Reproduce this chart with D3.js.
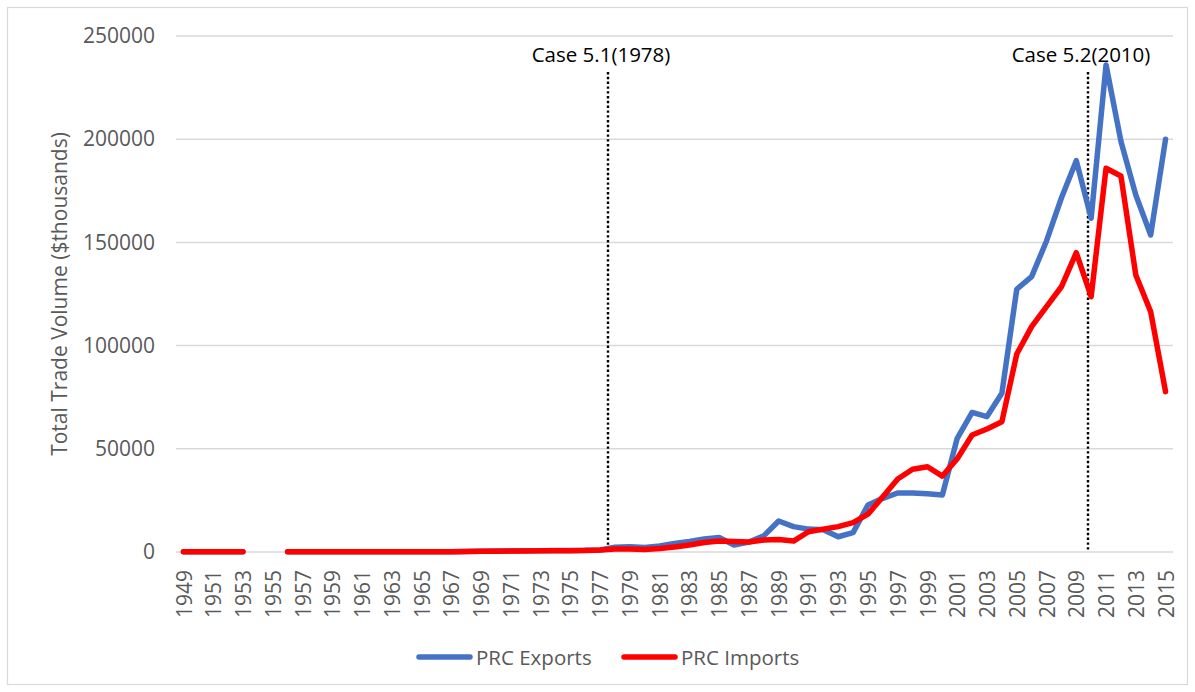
<!DOCTYPE html>
<html>
<head>
<meta charset="utf-8">
<script src="https://cdn.jsdelivr.net/npm/d3@7"></script>
<style>
  html, body { margin: 0; padding: 0; background: #fff; }
  svg { display: block; }
  text { font-family: "Open Sans", "Liberation Sans", sans-serif; }
</style>
</head>
<body>
<svg id="chart" width="1195" height="692"></svg>
<script>
// Years on the category axis (1949–2015)
const years = d3.range(1949, 2016);

// PRC exports, $ thousands (null = no data)
const exportsValues = [
  100, 100, 100, 100, 100, null, null,
  100, 100, 100, 100, 100, 100, 100, 100, 100, 100, 100, 150, 250,
  400, 450, 500, 550, 650, 700, 750, 800, 1000,
  2300, 2600, 2200, 2900, 4100, 5100, 6300, 7000, 3400, 4800, 7800,
  15000, 12300, 11100, 10800, 7400, 9400, 22800, 26000, 28600, 28600,
  28200, 27600, 55100, 67600, 65600, 76900, 127300, 133400, 150700, 171500,
  189600, 161700, 236000, 199000, 173000, 153600, 200000
];

// PRC imports, $ thousands (null = no data)
const importsValues = [
  100, 100, 100, 100, 100, null, null,
  100, 100, 100, 100, 100, 100, 100, 100, 100, 100, 100, 120, 200,
  350, 400, 450, 500, 550, 600, 650, 700, 1000,
  1500, 1500, 1200, 1700, 2400, 3400, 4600, 5300, 5100, 4800, 5800,
  6100, 5300, 9800, 11100, 12300, 14200, 18300, 26800, 35400, 40100,
  41300, 36800, 45200, 56700, 59600, 63100, 95900, 109200, 118900, 128500,
  145000, 123700, 185900, 182200, 134200, 116400, 77700
];

const yTicks = [0, 50000, 100000, 150000, 200000, 250000];
const xTickYears = years.filter(y => y % 2 === 1);

// Dotted case markers and their captions
const caseLabels = ["Case 5.1(1978)", "Case 5.2(2010)"];
const caseAt = [1977.53, 2009.79];

const seriesNames = ["PRC Exports", "PRC Imports"];
const seriesColors = ["#4472C4", "#FF0000"];

const svg = d3.select("#chart");
const W = 1195, H = 692;
const plot = { left: 176, right: 1173, top: 36, bottom: 552 };

// Chart frame
svg.append("rect")
  .attr("x", 7.5).attr("y", 7.5)
  .attr("width", W - 15).attr("height", H - 15)
  .attr("fill", "#fff").attr("stroke", "#d9d9d9").attr("stroke-width", 1.2);

const x = d3.scaleLinear()
  .domain([years[0] - 0.5, years[years.length - 1] + 0.5])
  .range([plot.left, plot.right]);

const y = d3.scaleLinear()
  .domain([0, 250000])
  .range([plot.bottom, plot.top]);

// Horizontal gridlines
svg.append("g")
  .selectAll("line")
  .data(yTicks)
  .join("line")
  .attr("x1", plot.left).attr("x2", plot.right)
  .attr("y1", d => y(d)).attr("y2", d => y(d))
  .attr("stroke", "#d9d9d9").attr("stroke-width", 1.5);

// Y axis labels
const yAxis = d3.axisLeft(y).tickValues(yTicks).tickSize(0).tickPadding(0).tickFormat(d3.format("d"));
const yg = svg.append("g").attr("transform", `translate(155,0)`).call(yAxis);
yg.select(".domain").remove();
yg.selectAll("text")
  .attr("font-size", 21)
  .attr("fill", "#595959")
  .attr("font-family", "'Open Sans', sans-serif");

// X axis labels (rotated)
const xAxis = d3.axisBottom(x).tickValues(xTickYears).tickSize(0).tickFormat(d3.format("d"));
const xg = svg.append("g").attr("transform", `translate(0,${plot.bottom})`).call(xAxis);
xg.select(".domain").remove();
xg.selectAll("text")
  .attr("font-size", 21)
  .attr("fill", "#595959")
  .attr("font-family", "'Open Sans', sans-serif")
  .attr("text-anchor", "end")
  .attr("transform", "rotate(-90)")
  .attr("x", -18)
  .attr("y", 0)
  .attr("dy", "0.36em");

// Y axis title
svg.append("text")
  .attr("transform", `translate(67,${(plot.top + plot.bottom) / 2}) rotate(-90)`)
  .attr("text-anchor", "middle")
  .attr("font-size", 21)
  .attr("fill", "#595959")
  .text("Total Trade Volume ($thousands)");

// Case markers
const marks = svg.append("g");
caseAt.forEach((yr, i) => {
  const px = Math.round(x(yr));
  marks.append("line")
    .attr("x1", px).attr("x2", px)
    .attr("y1", 72).attr("y2", plot.bottom)
    .attr("stroke", "#000").attr("stroke-width", 2.4)
    .attr("stroke-dasharray", "2.4,2.4");
  marks.append("text")
    .attr("x", px - 7)
    .attr("y", 62)
    .attr("text-anchor", "middle")
    .attr("font-size", 20.5)
    .attr("fill", "#000")
    .text(caseLabels[i]);
});

// Series lines
const seriesData = [exportsValues, importsValues];
const line = d3.line()
  .defined(d => d.v !== null)
  .x(d => x(d.year))
  .y(d => y(d.v));

seriesData.forEach((vals, i) => {
  svg.append("path")
    .datum(years.map((yr, j) => ({ year: yr, v: vals[j] })))
    .attr("d", line)
    .attr("fill", "none")
    .attr("stroke", seriesColors[i])
    .attr("stroke-width", 5.5)
    .attr("stroke-linejoin", "round")
    .attr("stroke-linecap", "round");
});

// Legend
const legendItems = [
  { name: seriesNames[0], color: seriesColors[0], x0: 417 },
  { name: seriesNames[1], color: seriesColors[1], x0: 622 }
];
const lg = svg.append("g");
legendItems.forEach(it => {
  lg.append("line")
    .attr("x1", it.x0 + 2).attr("x2", it.x0 + 53)
    .attr("y1", 657).attr("y2", 657)
    .attr("stroke", it.color).attr("stroke-width", 5.5)
    .attr("stroke-linecap", "round");
  lg.append("text")
    .attr("x", it.x0 + 59)
    .attr("y", 664.5)
    .attr("font-size", 20.5)
    .attr("fill", "#595959")
    .text(it.name);
});
</script>
</body>
</html>
